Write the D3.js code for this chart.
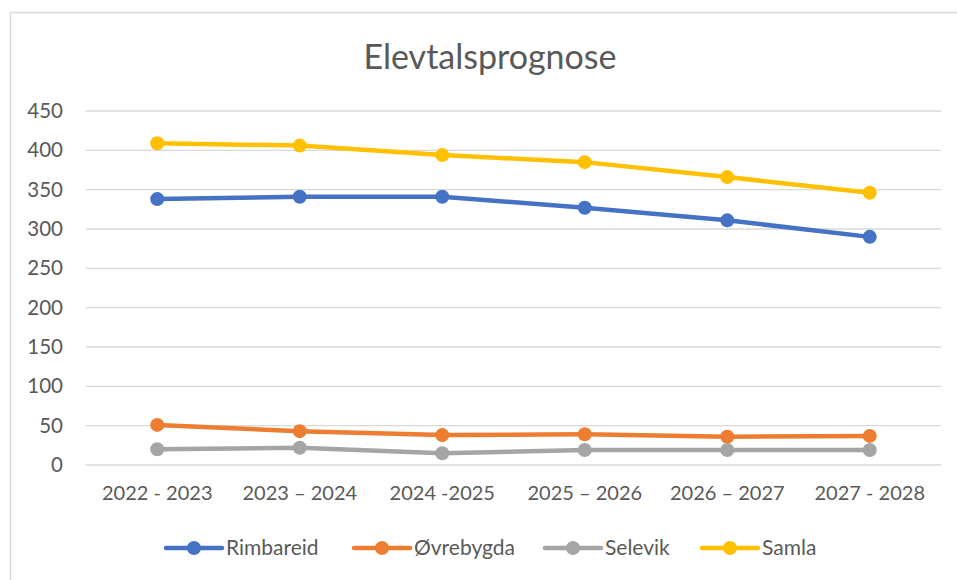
<!DOCTYPE html>
<html>
<head>
<meta charset="utf-8">
<script src="https://cdn.jsdelivr.net/npm/d3@7"></script>
<style>
  body { margin: 0; background: #fff; }
  svg { display: block; font-family: Lato, "Open Sans", sans-serif; }
</style>
</head>
<body>
<script>
// chart data
const periods = ["2022 - 2023", "2023 – 2024", "2024 -2025", "2025 – 2026", "2026 – 2027", "2027 - 2028"];
const rimbareid = [338, 341, 341, 327, 311, 290];
const ovrebygda = [51, 43, 38, 39, 36, 37];
const selevik = [20, 22, 15, 19, 19, 19];
const samla = [409, 406, 394, 385, 366, 346];
const yTicks = [0, 50, 100, 150, 200, 250, 300, 350, 400, 450];

const series = [
    {name: "Rimbareid", values: rimbareid, color: "#4472c4"},
    {name: "Øvrebygda", values: ovrebygda, color: "#ed7d31"},
    {name: "Selevik", values: selevik, color: "#a5a5a5"},
    {name: "Samla", values: samla, color: "#ffc000"}
];

const width = 957;
const height = 580;
const margin = {top: 111, right: 16, bottom: 115, left: 86};

const svg = d3.select("body")
    .append("svg")
    .attr("width", width)
    .attr("height", height);

// chart frame (only top/left edges are inside the crop)
svg.append("rect")
    .attr("x", 10.5)
    .attr("y", 12.5)
    .attr("width", 1000)
    .attr("height", 700)
    .attr("fill", "none")
    .attr("stroke", "#d9d9d9")
    .attr("stroke-width", 1.5);

const x = d3.scaleBand()
    .domain(periods)
    .range([margin.left, width - margin.right]);

const y = d3.scaleLinear()
    .domain([0, 450])
    .range([height - margin.bottom, margin.top]);

// title
svg.append("text")
    .attr("x", 490)
    .attr("y", 69)
    .attr("text-anchor", "middle")
    .attr("fill", "#595959")
    .style("font-size", "34px")
    .text("Elevtalsprognose");

// gridlines
svg.append("g")
    .selectAll("line")
    .data(yTicks)
    .join("line")
    .attr("x1", margin.left)
    .attr("x2", width - margin.right)
    .attr("y1", d => y(d))
    .attr("y2", d => y(d))
    .attr("stroke", "#d9d9d9")
    .attr("stroke-width", 1.3);

// y axis labels
const yAxis = svg.append("g")
    .attr("transform", `translate(${margin.left - 23},0)`)
    .call(d3.axisLeft(y).tickValues(yTicks).tickSize(0).tickPadding(0));
yAxis.select(".domain").remove();
yAxis.selectAll("text")
    .attr("fill", "#595959")
    .style("font-size", "20.5px")
    .style("font-family", "Lato, sans-serif");

// x axis labels
const xAxis = svg.append("g")
    .attr("transform", `translate(0,${height - margin.bottom + 21})`)
    .call(d3.axisBottom(x).tickSize(0).tickPadding(0));
xAxis.select(".domain").remove();
xAxis.selectAll("text")
    .attr("fill", "#595959")
    .style("font-size", "20px")
    .style("font-family", "Lato, sans-serif");

const line = d3.line()
    .x((d, i) => x(periods[i]) + x.bandwidth() / 2)
    .y(d => y(d));

const lines = svg.append("g")
    .selectAll("g")
    .data(series)
    .join("g");

lines.append("path")
    .attr("d", d => line(d.values))
    .attr("fill", "none")
    .attr("stroke", d => d.color)
    .attr("stroke-width", 4.5)
    .attr("stroke-linejoin", "round");

lines.selectAll("circle")
    .data(d => d.values.map(v => ({v: v, color: d.color})))
    .join("circle")
    .attr("cx", (d, i) => x(periods[i]) + x.bandwidth() / 2)
    .attr("cy", d => y(d.v))
    .attr("r", 7)
    .attr("fill", d => d.color);

// legend
const legendX = [166, 354, 545, 702];
const legend = svg.append("g")
    .selectAll("g")
    .data(series)
    .join("g")
    .attr("transform", (d, i) => `translate(${legendX[i]},548)`);

legend.append("line")
    .attr("x1", 0)
    .attr("x2", 56)
    .attr("stroke", d => d.color)
    .attr("stroke-width", 4.5)
    .attr("stroke-linecap", "round");

legend.append("circle")
    .attr("cx", 28)
    .attr("r", 7)
    .attr("fill", d => d.color);

legend.append("text")
    .attr("x", 60)
    .attr("dy", "0.35em")
    .attr("fill", "#595959")
    .style("font-size", "21px")
    .text(d => d.name);
</script>
</body>
</html>
